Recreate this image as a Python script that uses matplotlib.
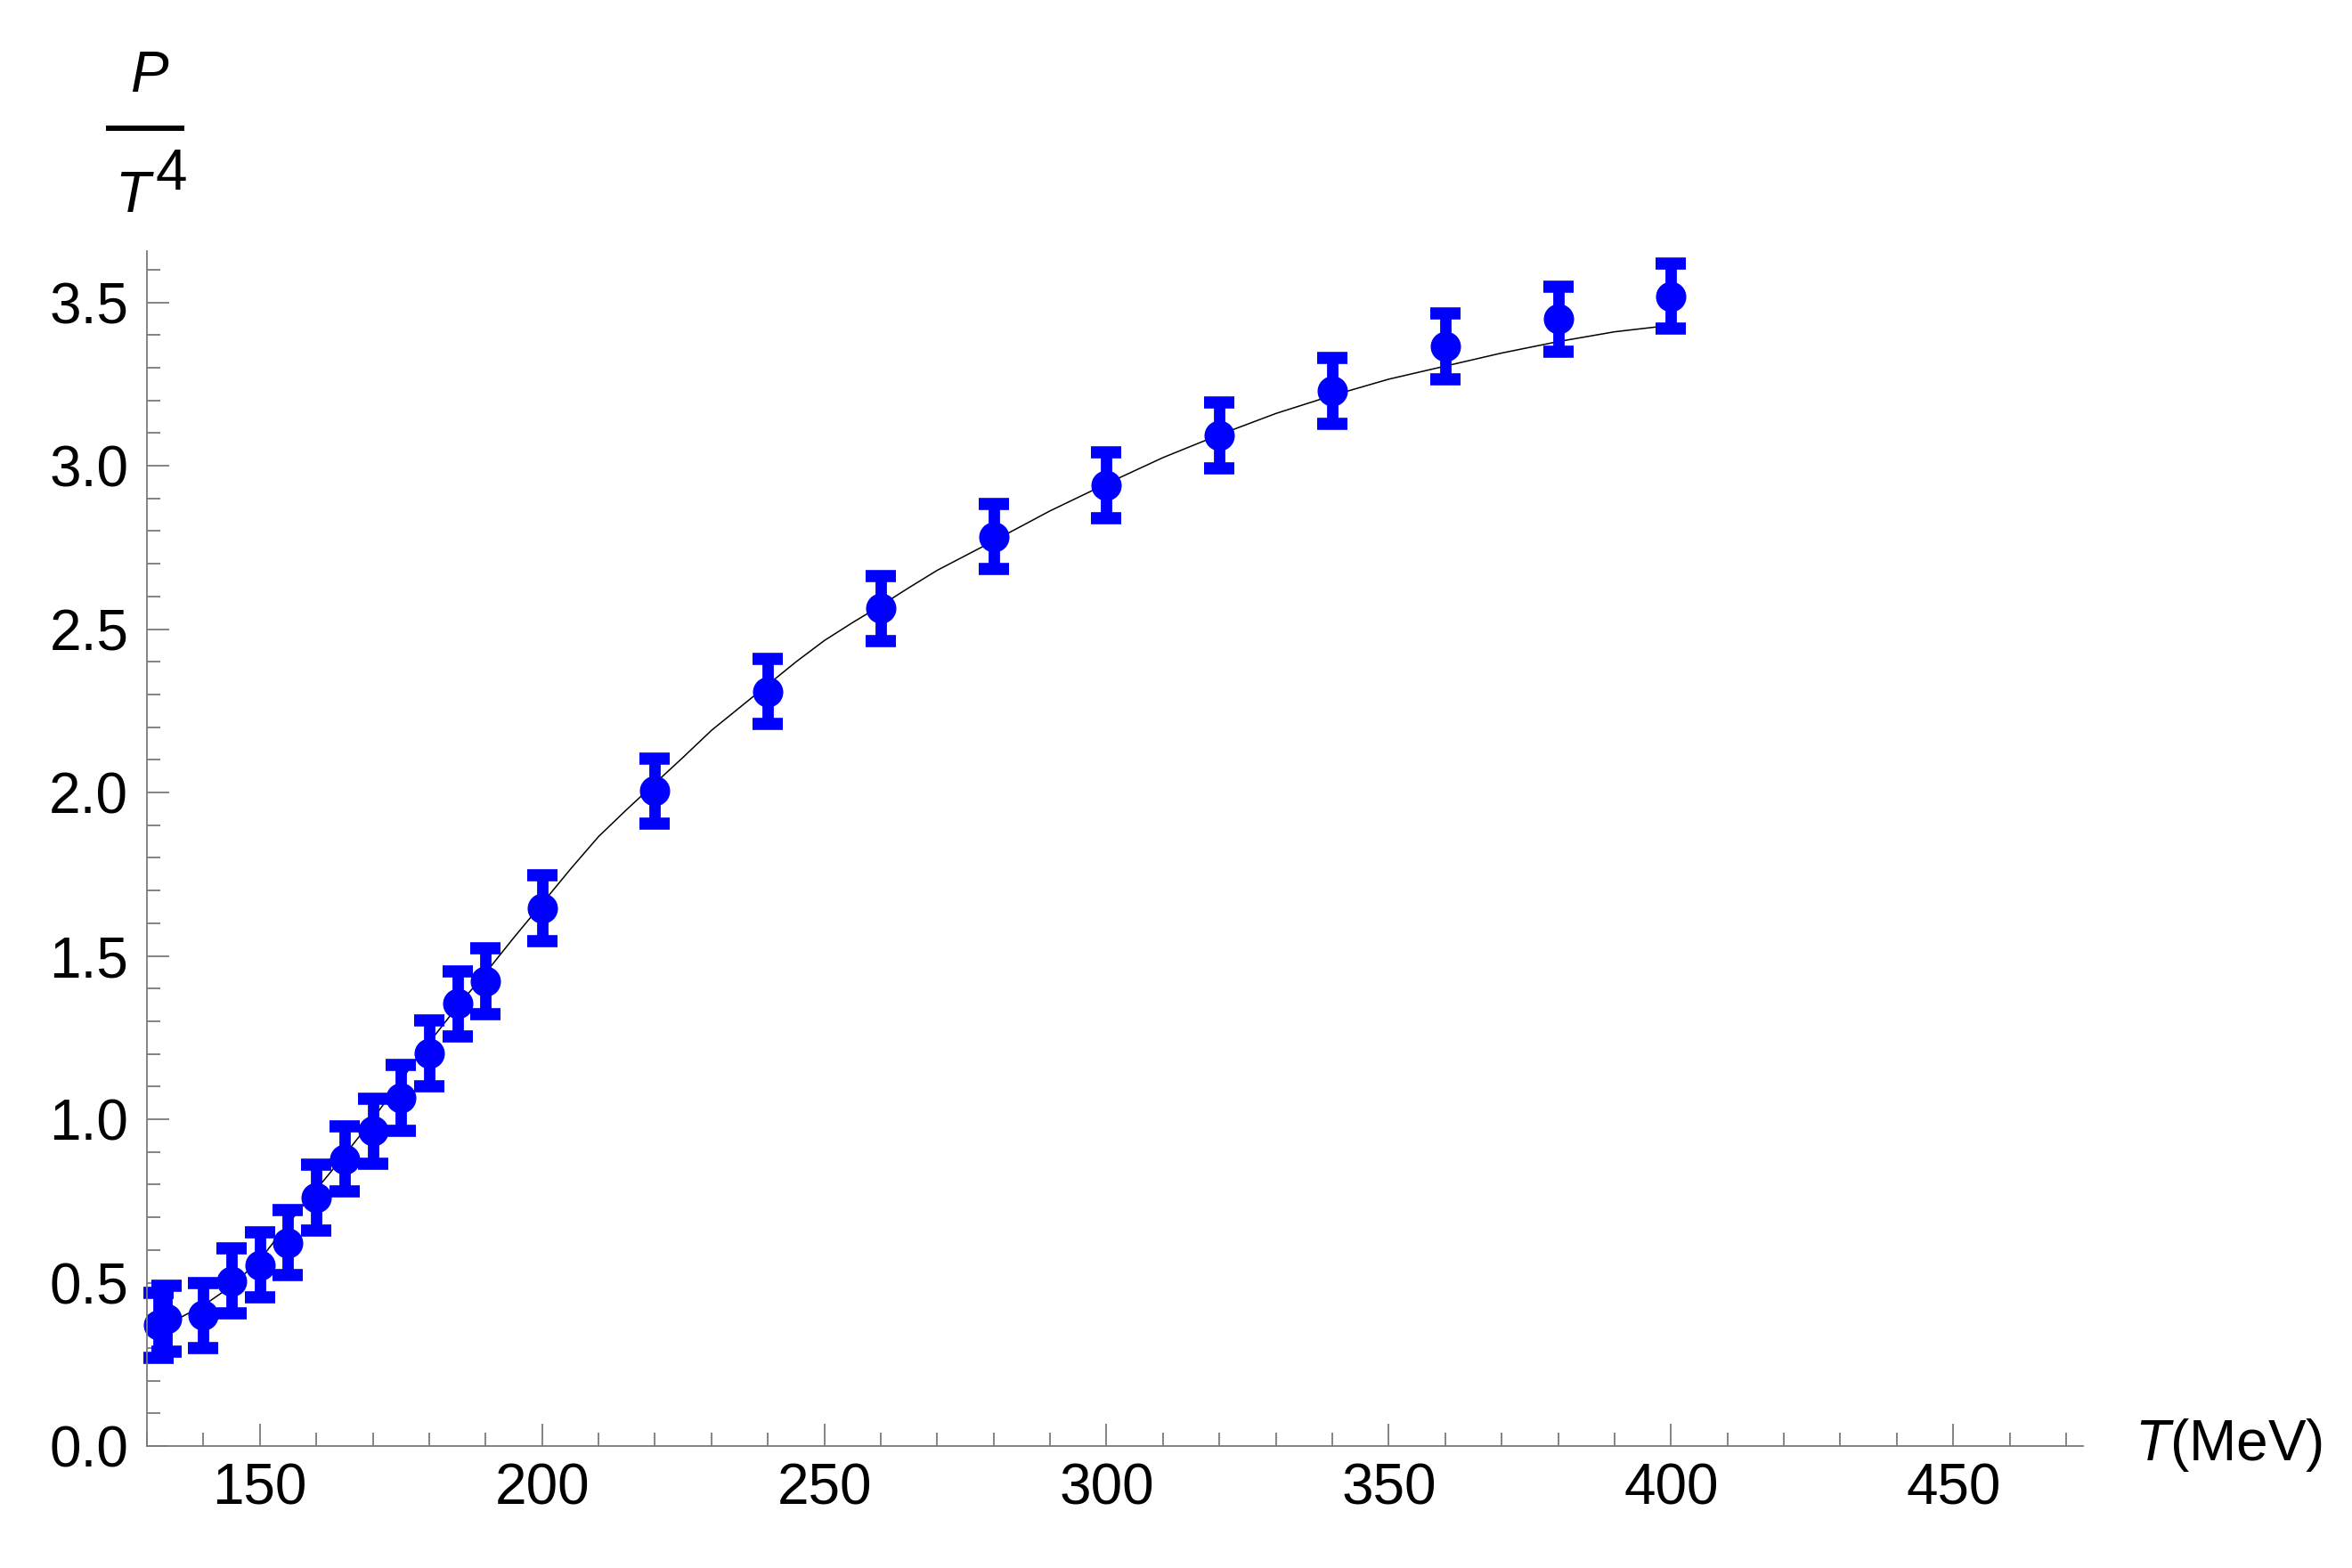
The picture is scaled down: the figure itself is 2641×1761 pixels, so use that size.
import matplotlib
matplotlib.use('Agg')
import matplotlib.pyplot as plt
from matplotlib.ticker import MultipleLocator, FormatStrFormatter
from matplotlib.lines import Line2D

plt.rcParams['font.family'] = ['Liberation Sans', 'DejaVu Sans']
plt.rcParams['mathtext.fontset'] = 'custom'
plt.rcParams['mathtext.it'] = 'Liberation Sans:italic'
plt.rcParams['mathtext.rm'] = 'Liberation Sans'

# lattice points, P/T^4 with +-0.1 errors
temps = [132, 133.5, 140, 145, 150, 155, 160, 165, 170, 175, 180, 185, 190,
         200, 220, 240, 260, 280, 300, 320, 340, 360, 380, 400]
pressure = [0.37, 0.39, 0.40, 0.505, 0.554, 0.622, 0.76, 0.878, 0.964, 1.066,
            1.202, 1.353, 1.423, 1.646, 2.005, 2.309, 2.563, 2.783, 2.940,
            3.093, 3.229, 3.365, 3.449, 3.519]
errors = [0.1] * len(temps)

# fitted curve
curve_t = [130, 135, 140, 145, 150, 155, 160, 165, 170, 175, 180, 185, 190,
           195, 200, 205, 210, 215, 220, 225, 230, 235, 240, 245, 250, 255,
           260, 265, 270, 280, 290, 300, 310, 320, 330, 340, 350, 360, 370,
           380, 390, 400]
curve_p = [0.34, 0.385, 0.43, 0.49, 0.57, 0.68, 0.785, 0.89, 1.00, 1.12,
           1.235, 1.345, 1.448, 1.556, 1.66, 1.765, 1.865, 1.948, 2.028,
           2.108, 2.19, 2.26, 2.33, 2.40, 2.465, 2.52, 2.572, 2.627, 2.68,
           2.77, 2.862, 2.945, 3.025, 3.095, 3.16, 3.215, 3.265, 3.305, 3.345,
           3.38, 3.41, 3.43]

W, H = 2641, 1761
fig = plt.figure(figsize=(W / 100, H / 100), dpi=100)
ax = fig.add_axes([165 / W, 1 - 1624 / H, (2339 - 165) / W, (1624 - 282) / H])

ax.plot(curve_t, curve_p, color='black', lw=1.1, zorder=1)
ax.errorbar(temps, pressure, yerr=errors, fmt='o', color='#0000ff', ms=23.5,
            elinewidth=9.2, capsize=11.9, capthick=9.8, zorder=2, clip_on=False)

ax.set_xlim(130, 473)
ax.set_ylim(0, 3.657)

axis_grey = '#7a7a7a'
for side in ['top', 'right']:
    ax.spines[side].set_visible(False)
for side in ['left', 'bottom']:
    ax.spines[side].set_color(axis_grey)
    ax.spines[side].set_linewidth(1.3)

ax.xaxis.set_major_locator(MultipleLocator(50))
ax.xaxis.set_minor_locator(MultipleLocator(10))
ax.yaxis.set_major_locator(MultipleLocator(0.5))
ax.yaxis.set_minor_locator(MultipleLocator(0.1))
ax.yaxis.set_major_formatter(FormatStrFormatter('%.1f'))
ax.tick_params(which='both', direction='in', color=axis_grey, width=1.3,
               labelsize=46)
ax.tick_params(which='major', length=18)
ax.tick_params(which='minor', length=10.8)
ax.tick_params(axis='x', pad=13)
ax.tick_params(axis='y', pad=15)

# x label at the end of the axis
fig.text(2397 / W, 1 - 1640 / H, r'$T$(MeV)', fontsize=46, ha='left',
         va='baseline')

# y label as a stacked fraction P / T^4
fig.text(167 / W, 1 - 103 / H, 'P', fontsize=46, style='italic',
         ha='center', va='baseline')
fig.add_artist(Line2D([122 / W, 204 / W], [1 - 144 / H, 1 - 144 / H],
                      transform=fig.transFigure, color='black', lw=4.3))
fig.text(129 / W, 1 - 238 / H, 'T', fontsize=46, style='italic',
         ha='left', va='baseline')
fig.text(174 / W, 1 - 213 / H, '4', fontsize=46, ha='left', va='baseline')

fig.savefig('out.png', dpi=100)
